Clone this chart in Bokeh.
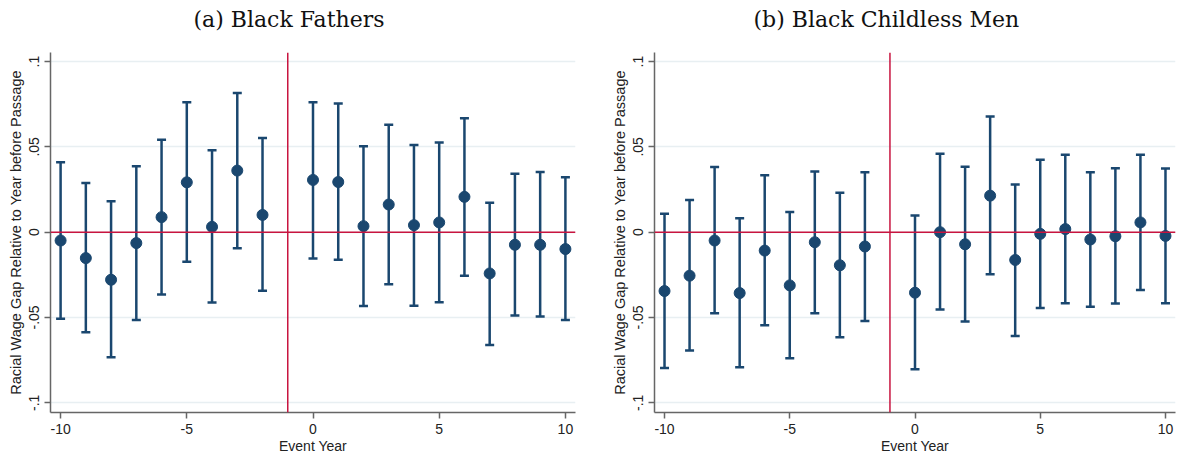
from bokeh.plotting import figure
from bokeh.layouts import row, column
from bokeh.models import ColumnDataSource, Whisker, TeeHead, Span, FixedTicker, Range1d
from bokeh.core.properties import value
from bokeh.embed import file_html
from bokeh.resources import INLINE

# Event years (year -1 is the omitted reference year)
years = [-10, -9, -8, -7, -6, -5, -4, -3, -2, 0, 1, 2, 3, 4, 5, 6, 7, 8, 9, 10]

# Panel (a) Black Fathers
fathers_est = [-0.0049, -0.0152, -0.0279, -0.0064, 0.0088, 0.0292, 0.0031, 0.0361, 0.0101,
               0.0306, 0.0294, 0.0035, 0.0162, 0.0041, 0.0057, 0.0207, -0.0242, -0.0074, -0.0074, -0.0099]
fathers_hi = [0.0410, 0.0288, 0.0181, 0.0386, 0.0542, 0.0762, 0.0480, 0.0815, 0.0552,
              0.0762, 0.0754, 0.0503, 0.0630, 0.0511, 0.0526, 0.0667, 0.0173, 0.0343, 0.0353, 0.0322]
fathers_lo = [-0.0507, -0.0587, -0.0733, -0.0515, -0.0365, -0.0173, -0.0413, -0.0094, -0.0343,
              -0.0154, -0.0162, -0.0433, -0.0306, -0.0431, -0.0411, -0.0255, -0.0661, -0.0489, -0.0495, -0.0515]

# Panel (b) Black Childless Men
childless_est = [-0.0345, -0.0255, -0.0049, -0.0357, -0.0108, -0.0312, -0.0059, -0.0194, -0.0084,
                 -0.0355, 0.0000, -0.0071, 0.0214, -0.0163, -0.0010, 0.0018, -0.0043, -0.0024, 0.0057, -0.0022]
childless_hi = [0.0108, 0.0188, 0.0382, 0.0082, 0.0333, 0.0118, 0.0355, 0.0231, 0.0351,
                0.0098, 0.0459, 0.0384, 0.0678, 0.0280, 0.0425, 0.0453, 0.0351, 0.0375, 0.0453, 0.0373]
childless_lo = [-0.0796, -0.0694, -0.0475, -0.0792, -0.0545, -0.0739, -0.0475, -0.0616, -0.0520,
                -0.0804, -0.0453, -0.0524, -0.0247, -0.0608, -0.0445, -0.0416, -0.0437, -0.0418, -0.0339, -0.0416]

titles = ["(a)  Black Fathers", "(b)  Black Childless Men"]
x_ticks = [-10, -5, 0, 5, 10]
x_tick_labels = {-10: "-10", -5: "-5", 0: "0", 5: "5", 10: "10"}
y_ticks = [-0.1, -0.05, 0, 0.05, 0.1]
y_tick_labels = {-0.1: "-.1", -0.05: "-.05", 0: "0", 0.05: ".05", 0.1: ".1"}

NAVY = "#1a476f"
RED = "#c8143f"
TOP_H = 40  # height of the strip holding the panel captions

# caption strip: pixel-based coordinates (x from left, y up from the strip bottom)
cap = figure(width=1178, height=TOP_H, output_backend="svg", toolbar_location=None,
             x_range=Range1d(0, 1178), y_range=Range1d(0, TOP_H),
             x_axis_type=None, y_axis_type=None,
             min_border=0, outline_line_color=None)
cap.grid.visible = False
cap.text(x=[193, 753], y=[TOP_H - 19, TOP_H - 19], text=titles,
         text_font=value("DejaVu Serif"), text_font_size="22px", text_color="#111111",
         text_baseline="alphabetic", text_align="left")


def make(est, lo, hi, border_left, border_right):
    src = ColumnDataSource(dict(x=years, est=est, lo=lo, hi=hi))
    p = figure(width=589, height=458 - TOP_H, output_backend="svg", toolbar_location=None,
               x_range=Range1d(-10.4, 10.4), y_range=Range1d(-0.1057, 0.1053),
               min_border_left=border_left, min_border_right=border_right,
               min_border_top=52 - TOP_H, min_border_bottom=46)
    p.outline_line_color = None
    p.background_fill_color = "white"
    p.border_fill_color = "white"

    p.xgrid.grid_line_color = None
    p.ygrid.ticker = FixedTicker(ticks=y_ticks)
    p.ygrid.grid_line_color = "#e8eff2"
    p.ygrid.grid_line_width = 1.5

    for ax, ticks in ((p.xaxis[0], x_ticks), (p.yaxis[0], y_ticks)):
        ax.ticker = FixedTicker(ticks=ticks)
        ax.minor_tick_line_color = None
        ax.axis_line_color = "#666666"
        ax.axis_line_width = 1.5
        ax.major_tick_line_color = "#666666"
        ax.major_tick_line_width = 1.5
        ax.major_tick_out = 6
        ax.major_tick_in = 0
        ax.major_label_text_font = "Liberation Sans"
        ax.major_label_text_font_size = "14px"
        ax.major_label_text_color = "#222222"
        ax.axis_label_text_font = "Liberation Sans"
        ax.axis_label_text_font_size = "14px"
        ax.axis_label_text_font_style = "normal"
        ax.axis_label_text_color = "#222222"
    p.xaxis.axis_label = "Event Year"
    p.xaxis.axis_label_standoff = 1
    p.xaxis.major_label_overrides = x_tick_labels
    p.yaxis.axis_label = "Racial Wage Gap Relative to Year before Passage"
    p.yaxis.axis_label_text_font_size = "14.5px"
    p.yaxis.axis_label_standoff = 3
    p.yaxis.major_label_orientation = "vertical"
    p.yaxis.major_label_overrides = y_tick_labels

    p.add_layout(Span(location=0, dimension="width", line_color=RED, line_width=1.5))
    p.add_layout(Span(location=-1, dimension="height", line_color=RED, line_width=1.5))

    w = Whisker(source=src, base="x", upper="hi", lower="lo",
                line_color=NAVY, line_width=2.5,
                upper_head=TeeHead(size=9, line_color=NAVY, line_width=2.5),
                lower_head=TeeHead(size=9, line_color=NAVY, line_width=2.5))
    p.add_layout(w)
    p.scatter("x", "est", source=src, size=11, fill_color=NAVY, line_color=NAVY)
    return p


p1 = make(fathers_est, fathers_lo, fathers_hi, 50, 14)
p2 = make(childless_est, childless_lo, childless_hi, 65, 3)
layout = column(cap, row(p1, p2, spacing=0), spacing=0)

open("out.html", "w").write(file_html(layout, INLINE))
